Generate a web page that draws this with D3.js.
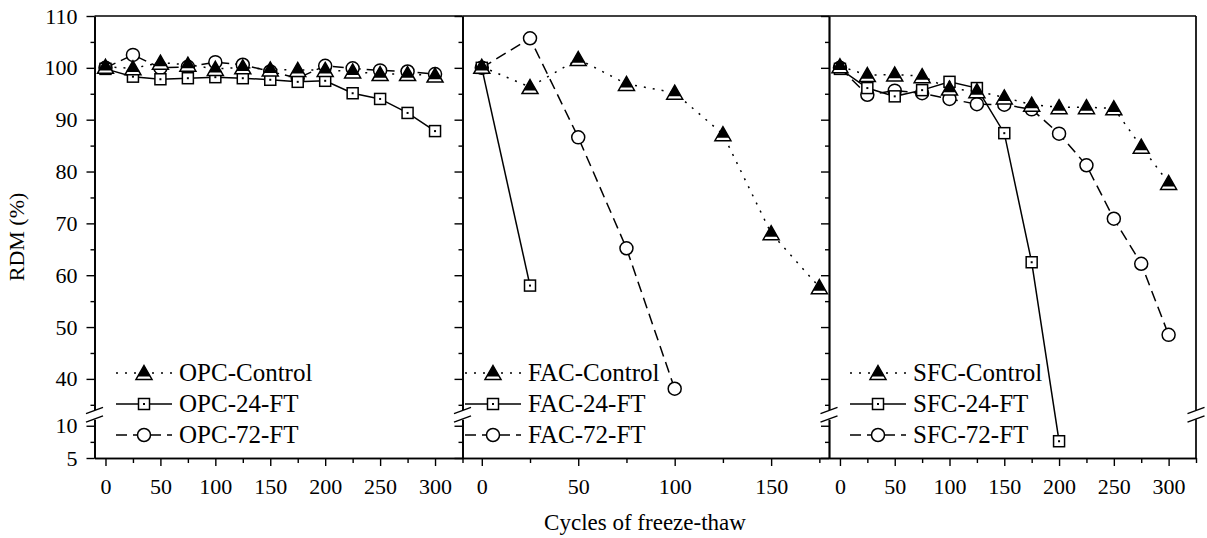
<!doctype html>
<html lang="en">
<head>
<meta charset="UTF-8">
<title>RDM vs freeze-thaw cycles</title>
<script src="https://cdn.jsdelivr.net/npm/d3@7"></script>
<style>
  body { margin: 0; background: #fff; }
  svg text { font-family: "Liberation Serif", "Times New Roman", serif; fill: #000; }
</style>
</head>
<body>
<div class="canvas"></div>
<script>
  // x categories (freeze-thaw cycles)
  const cyclesFull = [0, 25, 50, 75, 100, 125, 150, 175, 200, 225, 250, 275, 300];
  const facCtrlCycles = [0, 25, 50, 75, 100, 125, 150, 175];
  const fac24Cycles = [0, 25];
  const fac72Cycles = [0, 25, 50, 75, 100];
  const sfc24Cycles = [0, 25, 50, 75, 100, 125, 150, 175, 200];

  // RDM (%) series
  const opcControl = [100.2, 99.9, 101.0, 100.6, 99.8, 100.1, 99.7, 99.6, 99.6, 99.3, 98.8, 98.8, 98.5];
  const opc24 = [99.8, 98.3, 97.8, 98.0, 98.2, 98.0, 97.7, 97.3, 97.5, 95.1, 94.0, 91.3, 87.8];
  const opc72 = [100.0, 102.5, 100.0, 100.2, 101.1, 100.6, 99.3, 98.0, 100.4, 99.9, 99.5, 99.3, 98.8];

  const facControl = [100.2, 96.3, 101.7, 96.9, 95.2, 87.2, 68.1, 57.7];
  const fac24 = [100.0, 58.0];
  const fac72 = [100.0, 105.7, 86.6, 65.2, 38.1];

  const sfcControl = [100.3, 98.6, 98.7, 98.4, 96.0, 95.5, 94.3, 92.9, 92.4, 92.4, 92.2, 84.8, 77.8];
  const sfc24 = [99.8, 96.1, 94.5, 95.7, 97.3, 96.1, 87.4, 62.5, 7.6];
  const sfc72 = [100.0, 94.8, 95.6, 95.1, 94.0, 93.0, 92.9, 92.0, 87.3, 81.2, 70.9, 62.2, 48.5];

  // ticks
  const yMajorUpper = [40, 50, 60, 70, 80, 90, 100, 110];
  const yMinorUpper = [35, 45, 55, 65, 75, 85, 95, 105];
  const yMajorLower = [5, 10];
  const yMinorLower = [7.5];
  const xMajorWide = [0, 50, 100, 150, 200, 250, 300];
  const xMinorWide = [25, 75, 125, 175, 225, 275, 325];
  const xMajorFac = [0, 50, 100, 150];
  const xMinorFac = [25, 75, 125, 175];

  const svg = d3.select('.canvas').append('svg')
    .attr('width', 1207)
    .attr('height', 538);

  const plotTop = 16, plotBottom = 458;
  // broken y axis: two linear pieces
  const yUp = d3.scaleLinear().domain([34, 110]).range([410, plotTop]);
  const yLow = d3.scaleLinear().domain([5, 11]).range([plotBottom, 419.3]);
  const y = v => v >= 30 ? yUp(v) : yLow(v);

  const panels = [
    {
      x: d3.scaleLinear().domain([-10, 325]).range([94.5, 462.5]),
      major: xMajorWide, minor: xMinorWide, labels: true, legendX: 116,
      series: [
        {name: 'OPC-72-FT', kind: 'circle', cx: cyclesFull, vals: opc72},
        {name: 'OPC-24-FT', kind: 'square', cx: cyclesFull, vals: opc24},
        {name: 'OPC-Control', kind: 'tri', cx: cyclesFull, vals: opcControl}
      ]
    },
    {
      x: d3.scaleLinear().domain([-10, 180]).range([462.5, 829]),
      major: xMajorFac, minor: xMinorFac, labels: false, legendX: 465,
      series: [
        {name: 'FAC-72-FT', kind: 'circle', cx: fac72Cycles, vals: fac72},
        {name: 'FAC-24-FT', kind: 'square', cx: fac24Cycles, vals: fac24},
        {name: 'FAC-Control', kind: 'tri', cx: facCtrlCycles, vals: facControl}
      ]
    },
    {
      x: d3.scaleLinear().domain([-10, 325]).range([829, 1196]),
      major: xMajorWide, minor: xMinorWide, labels: false, legendX: 850,
      series: [
        {name: 'SFC-72-FT', kind: 'circle', cx: cyclesFull, vals: sfc72},
        {name: 'SFC-24-FT', kind: 'square', cx: sfc24Cycles, vals: sfc24},
        {name: 'SFC-Control', kind: 'tri', cx: cyclesFull, vals: sfcControl}
      ]
    }
  ];

  const dashFor = {tri: '2,7', square: null, circle: '11,6'};

  function drawMarker(g, kind, px, py) {
    const m = g.append('g').attr('transform', `translate(${px},${py})`);
    if (kind === 'tri') {
      m.append('path').attr('d', 'M0,-7.5L8,6.5L-8,6.5Z')
        .attr('fill', '#fff').attr('stroke', '#000').attr('stroke-width', 1.5);
      m.append('path').attr('d', 'M0,-7.5L6.4,3.6L-6.4,3.6Z').attr('fill', '#000');
    } else if (kind === 'square') {
      m.append('rect').attr('x', -5.5).attr('y', -5.5).attr('width', 11).attr('height', 11)
        .attr('fill', '#fff').attr('stroke', '#000').attr('stroke-width', 1.5);
      m.append('rect').attr('x', -1).attr('y', -1).attr('width', 2).attr('height', 2).attr('fill', '#000');
    } else {
      m.append('circle').attr('r', 6.5)
        .attr('fill', '#fff').attr('stroke', '#000').attr('stroke-width', 1.5);
    }
  }

  function breakMarks(g, bx) {
    // white gap + two slashes on the axis line
    g.append('rect').attr('x', bx - 2).attr('y', 410).attr('width', 4).attr('height', 9.3).attr('fill', '#fff');
    [410.5, 419].forEach(by => {
      g.append('line')
        .attr('x1', bx - 8.5).attr('y1', by + 3.2)
        .attr('x2', bx + 8.5).attr('y2', by - 3.2)
        .attr('stroke', '#000').attr('stroke-width', 1.4);
    });
  }

  const styleAxis = (sel) => {
    sel.select('.domain').attr('stroke-width', 1.7);
    sel.selectAll('.tick line').attr('stroke-width', 1.4);
    sel.selectAll('text').style('font-size', '22px').attr('font-family', 'Liberation Serif');
  };

  panels.forEach((p, i) => {
    const g = svg.append('g');
    const x0 = p.x.range()[0], x1 = p.x.range()[1];

    // top border
    g.append('line').attr('x1', x0).attr('x2', x1).attr('y1', plotTop).attr('y2', plotTop)
      .attr('stroke', '#000').attr('stroke-width', 1.7);

    // y axis (upper + lower)
    const fmt = p.labels ? d3.format('d') : () => '';
    [[yUp, yMajorUpper, yMinorUpper], [yLow, yMajorLower, yMinorLower]].forEach(([sc, maj, min]) => {
      const a = g.append('g').attr('transform', `translate(${x0},0)`)
        .call(d3.axisLeft(sc).tickValues(maj).tickSize(8).tickSizeOuter(0).tickPadding(9).tickFormat(fmt));
      styleAxis(a);
      const b = g.append('g').attr('transform', `translate(${x0},0)`)
        .call(d3.axisLeft(sc).tickValues(min).tickSize(4).tickSizeOuter(0).tickFormat(''));
      styleAxis(b);
    });
    breakMarks(g, x0);

    // x axis
    const xa = g.append('g').attr('transform', `translate(0,${plotBottom})`)
      .call(d3.axisBottom(p.x).tickValues(p.major).tickSize(8).tickSizeOuter(0).tickPadding(12).tickFormat(d3.format('d')));
    styleAxis(xa);
    const xb = g.append('g').attr('transform', `translate(0,${plotBottom})`)
      .call(d3.axisBottom(p.x).tickValues(p.minor).tickSize(5).tickSizeOuter(0).tickFormat(''));
    styleAxis(xb);

    // lines
    p.series.forEach(s => {
      const pts = s.cx.map((c, k) => [c, s.vals[k]]);
      g.append('path').datum(pts)
        .attr('d', d3.line().x(d => p.x(d[0])).y(d => y(d[1])))
        .attr('fill', 'none').attr('stroke', '#000').attr('stroke-width', 1.5)
        .attr('stroke-dasharray', dashFor[s.kind]);
    });
    // markers
    p.series.forEach(s => {
      s.cx.forEach((c, k) => drawMarker(g, s.kind, p.x(c), y(s.vals[k])));
    });

    // legend
    const order = ['tri', 'square', 'circle'];
    order.forEach((kind, r) => {
      const s = p.series.find(d => d.kind === kind);
      const ly = 373 + r * 31;
      const lx = p.legendX;
      g.append('line').attr('x1', lx).attr('x2', lx + 56).attr('y1', ly).attr('y2', ly)
        .attr('stroke', '#000').attr('stroke-width', 1.5)
        .attr('stroke-dasharray', dashFor[kind]);
      drawMarker(g, kind, lx + 28, ly);
      g.append('text').attr('x', lx + 63).attr('y', ly + 8)
        .style('font-size', '25px').text(s.name);
    });
  });

  // right border of last panel with break
  const rEdge = panels[2].x.range()[1];
  svg.append('line').attr('x1', rEdge).attr('x2', rEdge).attr('y1', plotTop).attr('y2', plotBottom)
    .attr('stroke', '#000').attr('stroke-width', 1.7);
  breakMarks(svg, rEdge);

  // axis titles
  svg.append('text')
    .attr('transform', `translate(24,${(plotTop + plotBottom) / 2}) rotate(-90)`)
    .attr('text-anchor', 'middle')
    .style('font-size', '22px')
    .text('RDM (%)');

  svg.append('text')
    .attr('x', 645).attr('y', 530)
    .attr('text-anchor', 'middle')
    .style('font-size', '23px')
    .text('Cycles of freeze-thaw');
</script>
</body>
</html>
